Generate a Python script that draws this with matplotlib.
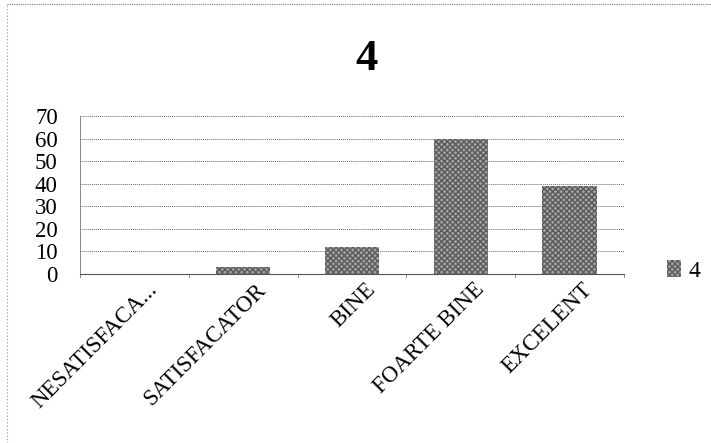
import numpy as np
import matplotlib.pyplot as plt
from matplotlib.lines import Line2D
from matplotlib.transforms import ScaledTranslation

# chart data
categories = ["NESATISFACA...", "SATISFACATOR", "BINE", "FOARTE BINE", "EXCELENT"]
values = [0, 3, 12, 60, 39]
series_name = "4"
yticks = [0, 10, 20, 30, 40, 50, 60, 70]

serif = ["Liberation Serif", "DejaVu Serif"]

fig = plt.figure(figsize=(7.11, 4.43), dpi=100)
ax = fig.add_axes([0.1125, 0.3815, 0.765, 0.3565])

x = np.arange(len(categories))
ax.bar(x, values, width=0.5, color="#a4a4a4", edgecolor="#5a5a5a",
       hatch="xxxxxx", linewidth=0, label=series_name)
ax.set_xlim(-0.5, len(categories) - 0.5)
ax.set_ylim(0, 70)
ax.set_yticks(yticks)
ax.set_yticklabels([str(v) for v in yticks], family=serif, fontsize=16.5)
ax.tick_params(axis="y", length=0, pad=16)

ax.set_xticks(x)
ax.set_xticklabels(categories, rotation=45, ha="right", va="center",
                   rotation_mode="anchor", family=serif, fontsize=16.5)
ax.tick_params(axis="x", length=0, pad=9)
shift = ScaledTranslation(20 / 100, 0, fig.dpi_scale_trans)
for lab in ax.get_xticklabels():
    lab.set_transform(lab.get_transform() + shift)
# little boundary ticks between categories
for b in np.arange(-0.5, len(categories), 1.0):
    ax.plot([b, b], [0, -1.5], color="#777777", lw=0.6, clip_on=False)

ax.yaxis.grid(True, color="#666666", linestyle=(0, (1, 1)), linewidth=0.7)
ax.set_axisbelow(True)
for side in ["top", "right"]:
    ax.spines[side].set_visible(False)
ax.spines["left"].set_color("#888888")
ax.spines["left"].set_linestyle((0, (1, 1)))
ax.spines["left"].set_linewidth(0.7)
ax.spines["bottom"].set_color("#555555")
ax.spines["bottom"].set_linestyle((0, (2, 1)))
ax.spines["bottom"].set_linewidth(0.8)

fig.text(0.515, 0.867, series_name, ha="center", va="center",
         family=serif, fontsize=32, fontweight="bold")

leg = ax.legend(loc="center left", bbox_to_anchor=(1.04, 0.02), frameon=False,
                prop={"family": serif, "size": 17}, handlelength=0.6,
                handleheight=0.7, handletextpad=0.3)

# dotted chart border (top and left visible in the scan)
fig.add_artist(Line2D([0.01, 1.0], [0.99, 0.99], color="#777777",
                      linestyle=(0, (1, 1)), linewidth=0.8))
fig.add_artist(Line2D([0.01, 0.01], [0.0, 0.99], color="#999999",
                      linestyle=(0, (1, 2)), linewidth=0.8))

fig.savefig("out.png", dpi=100)
